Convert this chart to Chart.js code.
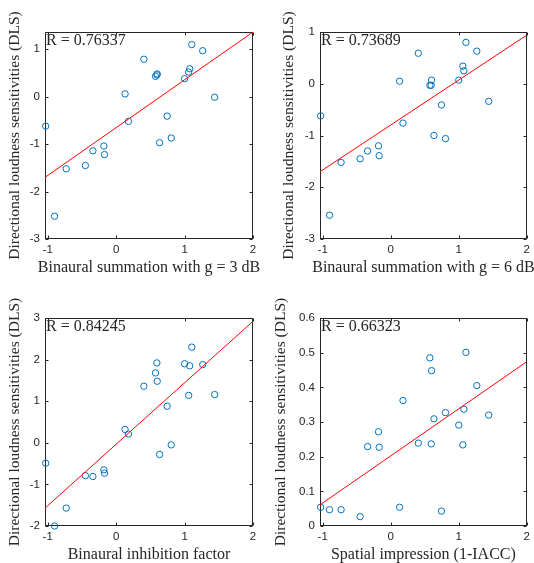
<!DOCTYPE html>
<html><head><meta charset="utf-8">
<script src="https://cdn.jsdelivr.net/npm/chart.js@4.4.1/dist/chart.umd.min.js"></script>
<style>
html,body{margin:0;padding:0;background:#fff;}
#wrap{position:relative;width:534px;height:563px;overflow:hidden;background:#fff;}
#wrap canvas{position:absolute;left:0;top:0;}
</style></head><body>
<div id="wrap">
<canvas id="c0" width="534" height="563"></canvas>
<canvas id="c1" width="534" height="563"></canvas>
<canvas id="c2" width="534" height="563"></canvas>
<canvas id="c3" width="534" height="563"></canvas>
</div>
<script>
// ---- data ----
const xValues = [-1.03, -0.90, -0.73, -0.45, -0.34, -0.18, -0.17, 0.13, 0.18, 0.405, 0.575, 0.595, 0.60, 0.635, 0.745, 0.805, 1.00, 1.06, 1.075, 1.105, 1.265, 1.44];
const dlsSum3 = [-0.62, -2.52, -1.52, -1.45, -1.14, -1.04, -1.22, 0.06, -0.52, 0.79, 0.43, 0.46, 0.48, -0.97, -0.41, -0.87, 0.38, 0.52, 0.59, 1.10, 0.97, -0.01];
const dlsSum6 = [-0.62, -2.54, -1.52, -1.45, -1.30, -1.20, -1.39, 0.05, -0.76, 0.59, -0.03, -0.03, 0.07, -1.00, -0.41, -1.06, 0.07, 0.34, 0.25, 0.80, 0.63, -0.34];
const dlsInhib = [-0.49, -2.00, -1.57, -0.79, -0.81, -0.65, -0.73, 0.32, 0.21, 1.36, 1.68, 1.92, 1.48, -0.28, 0.88, -0.05, 1.90, 1.14, 1.85, 2.30, 1.88, 1.16];
const dlsSpatial = [0.054, 0.047, 0.047, 0.027, 0.229, 0.272, 0.227, 0.054, 0.362, 0.239, 0.485, 0.237, 0.448, 0.309, 0.043, 0.327, 0.291, 0.234, 0.337, 0.501, 0.405, 0.320];

const fitX = [-1.04, 2];
const fitSum3 = [-1.70, 1.365];
const fitSum6 = [-1.70, 0.94];
const fitInhib = [-1.57, 2.92];
const fitSpatial = [0.061, 0.474];

const xTicks = [-1, 0, 1, 2];
const yTicksSum = [-3, -2, -1, 0, 1];
const yTicksInhib = [-2, -1, 0, 1, 2, 3];
const yTicksSpatial = [0, 0.1, 0.2, 0.3, 0.4, 0.5, 0.6];

const rLabels = ['R = 0.76337', 'R = 0.73689', 'R = 0.84245', 'R = 0.66323'];
const xTitles = ['Binaural summation with g = 3 dB', 'Binaural summation with g = 6 dB', 'Binaural inhibition factor', 'Spatial impression (1-IACC)'];
const yTitle = 'Directional loudness sensitivities (DLS)';

// ---- layout ----
const W = 534, H = 563;
const panels = [
  {ys: dlsSum3, fit: fitSum3, yMin: -3, yMax: 1.365, yTicks: yTicksSum, box: {L: 45, R: 253, T: 32, B: 239}, yTitleOff: 30},
  {ys: dlsSum6, fit: fitSum6, yMin: -3, yMax: 1, yTicks: yTicksSum, box: {L: 320, R: 527, T: 32, B: 239}, yTitleOff: 31.5},
  {ys: dlsInhib, fit: fitInhib, yMin: -2, yMax: 3, yTicks: yTicksInhib, box: {L: 45, R: 253, T: 318, B: 526}, yTitleOff: 30},
  {ys: dlsSpatial, fit: fitSpatial, yMin: 0, yMax: 0.6, yTicks: yTicksSpatial, box: {L: 320, R: 527, T: 318, B: 526}, yTitleOff: 39}
];

const AXC = '#262626';
const SERIF = '"Liberation Serif", "Times New Roman", serif';
const SANS = '"Liberation Sans", Arial, Helvetica, sans-serif';

const framePlugin = {
  id: 'frame',
  beforeDatasetsDraw(chart, args, opts) {
    const {ctx, chartArea: a, scales: {x, y}} = chart;
    ctx.save();
    ctx.strokeStyle = AXC;
    ctx.lineWidth = 1;
    const L = Math.round(a.left) + 0.5, R = Math.round(a.right) - 0.5;
    const T = Math.round(a.top) + 0.5, B = Math.round(a.bottom) - 0.5;
    ctx.strokeRect(L, T, R - L, B - T);
    const tl = 3;
    ctx.beginPath();
    x.ticks.forEach(t => {
      const px = Math.round(x.getPixelForValue(t.value)) + 0.5;
      ctx.moveTo(px, B); ctx.lineTo(px, B - tl);
      ctx.moveTo(px, T); ctx.lineTo(px, T + tl);
    });
    y.ticks.forEach(t => {
      const py = Math.round(y.getPixelForValue(t.value)) + 0.5;
      ctx.moveTo(L, py); ctx.lineTo(L + tl, py);
      ctx.moveTo(R, py); ctx.lineTo(R - tl, py);
    });
    ctx.stroke();
    ctx.restore();
  },
  afterDatasetsDraw(chart, args, opts) {
    const {ctx, chartArea: a} = chart;
    ctx.save();
    ctx.fillStyle = AXC;
    // R annotation
    ctx.font = '16px ' + SERIF;
    ctx.textAlign = 'left';
    ctx.textBaseline = 'alphabetic';
    ctx.fillText(opts.note, a.left + 1, a.top + 13);
    // x title
    const xt = chart.options.scales.x.title;
    ctx.font = '16px ' + SERIF;
    ctx.textAlign = 'center';
    ctx.fillText(xt.text, (a.left + a.right) / 2, a.bottom + 32.5);
    // y title
    const yt = chart.options.scales.y.title;
    ctx.font = '15.5px ' + SERIF;
    ctx.translate(a.left - opts.yTitleOff, (a.top + a.bottom) / 2);
    ctx.rotate(-Math.PI / 2);
    ctx.textBaseline = 'middle';
    ctx.fillText(yt.text, 0, 0);
    ctx.restore();
  }
};

panels.forEach((p, i) => {
  const yAxisW = 40, xAxisH = 20;
  const pts = xValues.map((xv, k) => ({x: xv, y: p.ys[k]}));
  const fitPts = fitX.map((xv, k) => ({x: xv, y: p.fit[k]}));
  new Chart(document.getElementById('c' + i), {
    type: 'scatter',
    data: {
      datasets: [
        {data: fitPts, showLine: true, borderColor: '#ff0000', borderWidth: 1, pointRadius: 0, fill: false, order: 0, clip: false},
        {data: pts, showLine: false, pointStyle: 'circle', pointRadius: 3.2, borderWidth: 1, borderColor: '#0072BD', backgroundColor: 'rgba(0,0,0,0)', order: 1, clip: false}
      ]
    },
    options: {
      responsive: false,
      animation: false,
      events: [],
      layout: {padding: {left: p.box.L - yAxisW, right: W - p.box.R, top: p.box.T, bottom: H - p.box.B - xAxisH}},
      plugins: {
        legend: {display: false},
        tooltip: {enabled: false},
        frame: {note: rLabels[i], yTitleOff: p.yTitleOff}
      },
      scales: {
        x: {
          type: 'linear', min: fitX[0], max: fitX[1],
          grid: {display: false, drawTicks: false}, border: {display: false},
          title: {display: false, text: xTitles[i]},
          afterBuildTicks: s => { s.ticks = xTicks.map(v => ({value: v})); },
          afterFit: s => { s.height = xAxisH; },
          ticks: {color: AXC, font: {family: SANS, size: 11.5}, padding: 4, maxRotation: 0, autoSkip: false, callback: v => String(v)}
        },
        y: {
          type: 'linear', min: p.yMin, max: p.yMax,
          grid: {display: false, drawTicks: false}, border: {display: false},
          title: {display: false, text: yTitle},
          afterBuildTicks: s => { s.ticks = p.yTicks.map(v => ({value: v})); },
          afterFit: s => { s.width = yAxisW; },
          ticks: {color: AXC, font: {family: SANS, size: 11.5}, padding: 5, autoSkip: false, callback: v => String(Math.round(v * 10) / 10)}
        }
      }
    },
    plugins: [framePlugin]
  });
});
</script>
</body></html>
